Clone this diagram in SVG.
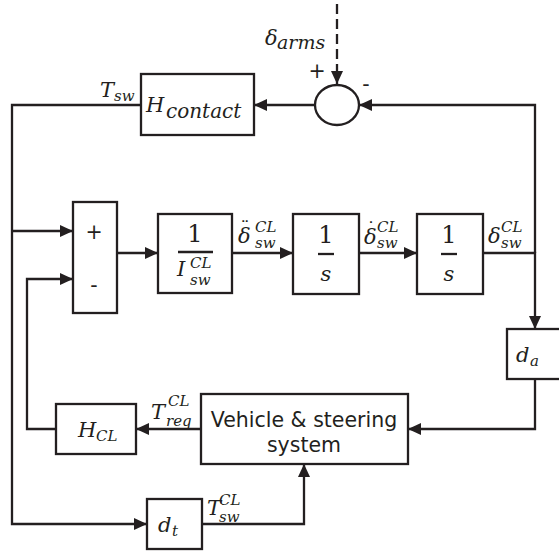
<svg xmlns="http://www.w3.org/2000/svg" width="559" height="551" viewBox="0 0 559 551">
<style>
.box{fill:#fff;stroke:#231f20;stroke-width:2.3}
.ln{fill:none;stroke:#231f20;stroke-width:2.3}
.ar{marker-end:url(#ah)}
.m{font-family:"DejaVu Serif",serif;font-style:italic;fill:#231f20;font-size:21px}
.s{font-size:15px}
.d{font-family:"DejaVu Sans",sans-serif;font-style:normal;font-size:18px}
.u{font-family:"DejaVu Serif",serif;fill:#231f20;font-size:24px}
.t{font-family:"DejaVu Sans",sans-serif;fill:#231f20;font-size:20.5px}
</style>
<defs>
<marker id="ah" markerUnits="userSpaceOnUse" markerWidth="13" markerHeight="12" refX="13" refY="6" orient="auto">
<path d="M0,0 L13,6 L0,12 z" fill="#231f20"/>
</marker>
</defs>
<rect width="559" height="551" fill="#fff"/>
<g id="connectors">
<line class="ln ar" x1="337" y1="0" x2="337" y2="84" stroke-dasharray="10 5" stroke-dashoffset="-4"/>
<line class="ln ar" x1="315" y1="105" x2="254" y2="105"/>
<polyline class="ln ar" points="535,253 535,105 359,105"/>
<polyline class="ln ar" points="141,105 12,105 12,524 147,524"/>
<line class="ln ar" x1="12" y1="231" x2="73" y2="231"/>
<polyline class="ln ar" points="56,429 27,429 27,279 73,279"/>
<line class="ln ar" x1="117" y1="253" x2="158" y2="253"/>
<line class="ln ar" x1="232" y1="253" x2="293" y2="253"/>
<line class="ln ar" x1="359" y1="253" x2="417" y2="253"/>
<polyline class="ln ar" points="483,253 535,253 535,329"/>
<polyline class="ln ar" points="535,379 535,429 408,429"/>
<line class="ln ar" x1="201" y1="429" x2="136" y2="429"/>
<polyline class="ln ar" points="202,524 304,524 304,464"/>
</g>
<g id="labels">
<text class="m" x="100" y="97" font-size="22">T<tspan class="s" x="114" y="101" font-size="17">sw</tspan></text>
<text class="m" x="265" y="45" font-size="22">δ<tspan x="277" y="49" font-size="19">arms</tspan></text>
<text class="t" x="317" y="78" text-anchor="middle" font-size="17">+</text>
<text class="t" x="366" y="91" text-anchor="middle" font-size="17">-</text>
<text class="m" x="238" y="243">δ<tspan class="d" x="245" y="234" text-anchor="middle">¨</tspan><tspan class="s" x="255" y="232">CL</tspan><tspan class="s" x="255" y="248">sw</tspan></text>
<text class="m" x="364" y="244">δ<tspan class="d" x="371" y="235" text-anchor="middle">˙</tspan><tspan class="s" x="377" y="232">CL</tspan><tspan class="s" x="377" y="248">sw</tspan></text>
<text class="m" x="488" y="243">δ<tspan class="s" x="501" y="232">CL</tspan><tspan class="s" x="501" y="248">sw</tspan></text>
<text class="m" x="151" y="419">T<tspan class="s" x="168" y="406">CL</tspan><tspan class="s" x="166" y="426">req</tspan></text>
<text class="m" x="207" y="515">T<tspan class="s" x="219" y="505">CL</tspan><tspan class="s" x="219" y="522">sw</tspan></text>
</g>
<g id="n-contact">
<rect class="box" x="141" y="74" width="113" height="61"/>
<text class="m" x="146" y="112" font-size="22">H<tspan x="166" y="118" font-size="20">contact</tspan></text>
</g>
<g id="n-sumjunction">
<ellipse class="box" cx="337" cy="105" rx="22" ry="20"/>
</g>
<g id="n-sum">
<rect class="box" x="73" y="202" width="44" height="111"/>
<text class="t" x="94" y="239" text-anchor="middle" font-size="22">+</text>
<text class="t" x="94" y="292" text-anchor="middle" font-size="22">-</text>
</g>
<g id="n-inertia">
<rect class="box" x="158" y="214" width="74" height="79"/>
<text class="u" x="195" y="242" text-anchor="middle">1</text>
<line class="ln" x1="178" y1="252" x2="213" y2="252"/>
<text class="m" x="177" y="276">I<tspan class="s" x="190" y="268">CL</tspan><tspan class="s" x="190" y="285">sw</tspan></text>
</g>
<g id="n-int1">
<rect class="box" x="293" y="214" width="66" height="80"/>
<text class="u" x="326" y="243" text-anchor="middle">1</text>
<line class="ln" x1="318" y1="254" x2="334" y2="254"/>
<text class="m" x="326" y="281" text-anchor="middle">s</text>
</g>
<g id="n-int2">
<rect class="box" x="417" y="214" width="66" height="80"/>
<text class="u" x="449" y="243" text-anchor="middle">1</text>
<line class="ln" x1="441" y1="254" x2="457" y2="254"/>
<text class="m" x="449" y="281" text-anchor="middle">s</text>
</g>
<g id="n-da">
<rect class="box" x="507" y="329" width="56" height="50"/>
<text class="m" x="516" y="362">d<tspan class="s" x="530" y="366">a</tspan></text>
</g>
<g id="n-vehicle">
<rect class="box" x="201" y="394" width="207" height="70"/>
<text class="t" x="304" y="427" text-anchor="middle">Vehicle &amp; steering</text>
<text class="t" x="304" y="452" text-anchor="middle">system</text>
</g>
<g id="n-hcl">
<rect class="box" x="56" y="404" width="80" height="50"/>
<text class="m" x="78" y="437">H<tspan class="s" x="96" y="441">CL</tspan></text>
</g>
<g id="n-dt">
<rect class="box" x="147" y="499" width="55" height="50"/>
<text class="m" x="158" y="532">d<tspan class="s" x="172" y="536">t</tspan></text>
</g>
</svg>
